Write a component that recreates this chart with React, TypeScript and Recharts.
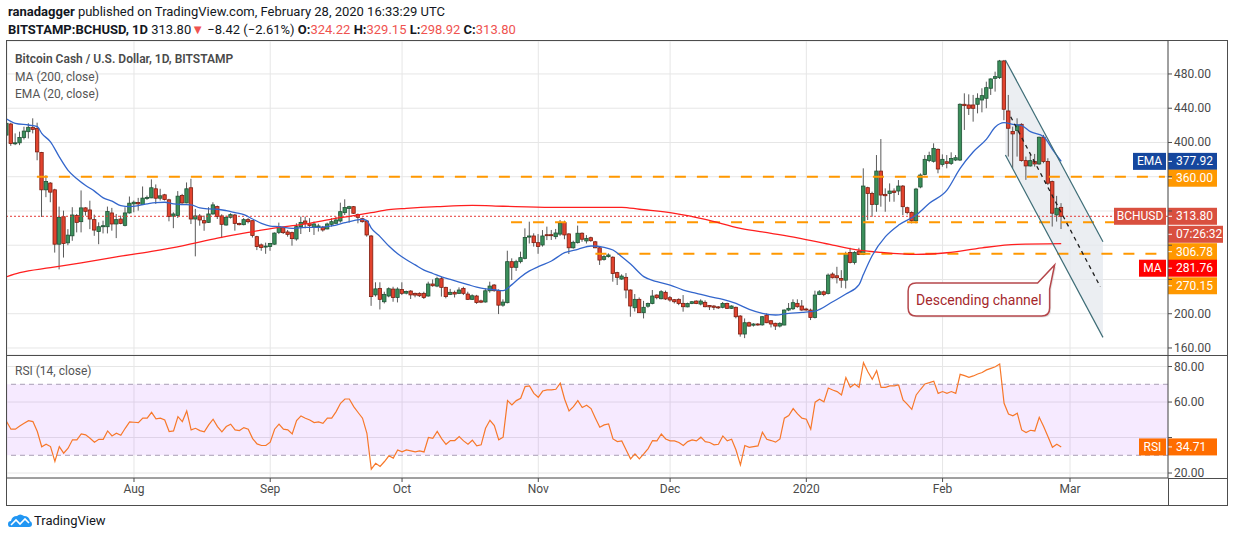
import React from 'react';
import {
  Bar,
  CartesianGrid,
  ComposedChart,
  Line,
  ReferenceArea,
  ReferenceDot,
  ReferenceLine,
  XAxis,
  YAxis,
} from 'recharts';

// day 0 = Aug 1 2019, first candle is Jul 3 2019
const FIRST_DAY = -29;

type Ohlc = [number, number, number, number]; // open, high, low, close

const julCandles: Ohlc[] = [
  [408.6, 424.3, 407.4, 422.4], [421.6, 423.1, 396.1, 398.8], [398.8, 410.6, 396.9, 399.6],
  [399.6, 412.6, 396.9, 405.9], [405.9, 418.4, 403.5, 413.3], [412.6, 422.4, 404.7, 417.7],
  [417.7, 428.2, 410.6, 415.3], [416.5, 423.1, 379.2, 389.0], [388.3, 389.0, 313.0, 344.7],
  [344.7, 361.6, 336.1, 354.5], [352.6, 353.7, 330.2, 342.0], [344.7, 345.9, 271.4, 281.2],
  [281.2, 325.1, 251.8, 312.6], [313.3, 320.4, 265.6, 282.0], [282.8, 298.8, 280.0, 291.8],
  [291.0, 324.4, 285.2, 315.3], [314.6, 316.5, 295.0, 306.7], [307.5, 344.0, 295.0, 323.6],
  [323.6, 324.4, 314.6, 319.6], [321.2, 332.0, 298.8, 310.6], [309.9, 315.7, 291.0, 297.7],
  [296.1, 306.7, 281.2, 301.6], [301.6, 308.7, 293.8, 302.8], [301.6, 325.1, 293.8, 319.3],
  [317.7, 323.6, 297.0, 304.8], [304.8, 316.5, 288.3, 309.9], [310.6, 314.6, 304.5, 305.5],
  [303.2, 324.4, 302.0, 317.7], [317.7, 336.9, 316.9, 329.1],
];

const augCandles: Ohlc[] = [
  [328.3, 332.2, 318.5, 330.2], [329.8, 335.3, 320.4, 328.3], [327.5, 348.6, 327.0, 335.0],
  [335.0, 338.0, 333.0, 335.7], [335.3, 356.9, 335.0, 347.1], [345.9, 351.0, 328.3, 334.9],
  [334.9, 345.9, 332.2, 337.7], [338.9, 340.0, 332.2, 333.4], [333.0, 334.2, 307.9, 313.4],
  [314.0, 318.5, 299.9, 316.5], [314.6, 343.2, 311.8, 337.3], [338.1, 340.0, 328.5, 329.4],
  [329.4, 353.3, 329.0, 345.9], [347.1, 357.6, 304.7, 310.6], [310.6, 322.4, 267.0, 314.2],
  [314.2, 316.5, 302.8, 309.5], [308.7, 314.6, 296.9, 306.0], [306.7, 324.4, 306.0, 316.5],
  [316.5, 330.2, 315.7, 327.1], [325.1, 326.3, 310.6, 313.4], [314.2, 316.1, 288.3, 304.4],
  [303.6, 314.6, 302.8, 312.6], [312.6, 317.3, 311.1, 315.7], [315.3, 316.5, 297.0, 305.5],
  [305.5, 306.3, 303.2, 304.0], [304.0, 311.8, 303.2, 309.9], [309.9, 311.8, 305.5, 307.5],
  [308.7, 308.9, 289.0, 291.4], [290.0, 291.0, 274.3, 278.4], [280.4, 282.0, 273.5, 277.3],
  [278.0, 283.0, 270.0, 279.0],
];

const sepCandles: Ohlc[] = [
  [278.4, 282.7, 273.5, 282.0], [281.2, 295.0, 280.4, 294.2], [295.0, 306.4, 293.0, 301.7],
  [300.5, 301.7, 293.1, 294.7], [295.5, 297.8, 290.0, 292.7], [294.7, 295.9, 279.5, 287.7],
  [287.3, 305.6, 285.3, 301.7], [301.7, 313.4, 293.1, 306.7], [308.3, 313.4, 299.7, 305.6],
  [305.0, 311.6, 295.5, 303.0], [301.0, 307.6, 292.0, 304.8], [301.0, 305.0, 296.0, 302.5],
  [301.0, 302.5, 295.9, 297.8], [299.0, 306.4, 298.6, 304.8], [304.4, 311.5, 301.7, 307.5],
  [305.6, 313.4, 304.8, 309.5], [308.3, 329.7, 306.4, 319.2], [318.0, 333.6, 315.3, 324.0],
  [323.0, 326.0, 306.4, 325.0], [325.0, 325.8, 316.5, 317.3], [316.0, 317.0, 305.6, 312.6],
  [311.0, 312.2, 306.4, 307.5], [308.3, 309.5, 290.0, 292.0], [290.8, 292.0, 209.2, 220.0],
  [222.0, 236.7, 220.0, 229.0], [229.6, 236.7, 205.0, 216.8], [214.0, 225.7, 212.0, 222.6],
  [220.7, 230.8, 219.2, 229.2], [228.8, 231.5, 214.0, 219.0], [219.0, 230.8, 213.2, 228.8],
];

const octCandles: Ohlc[] = [
  [228.4, 236.7, 221.8, 223.8], [224.0, 227.0, 222.6, 226.0], [226.5, 227.5, 217.2, 222.0],
  [223.8, 224.6, 219.2, 221.8], [223.8, 225.0, 219.5, 221.0], [223.8, 225.7, 217.2, 219.0],
  [220.7, 237.4, 219.9, 234.7], [234.7, 240.0, 231.5, 232.7], [232.3, 243.3, 231.0, 240.9],
  [240.9, 243.3, 220.0, 230.8], [230.8, 231.5, 218.0, 220.0], [222.6, 229.0, 221.8, 225.0],
  [225.0, 227.0, 219.0, 223.0], [223.8, 230.8, 223.0, 227.7], [229.6, 231.5, 221.8, 223.8],
  [223.0, 225.7, 216.0, 216.8], [216.8, 222.6, 216.0, 221.0], [220.7, 222.0, 211.5, 213.0],
  [215.0, 216.4, 212.4, 213.5], [213.7, 229.6, 213.0, 226.8], [226.8, 237.4, 224.6, 232.3],
  [233.5, 234.7, 225.7, 226.9], [226.9, 228.4, 199.6, 210.0], [210.0, 216.8, 208.2, 213.6],
  [212.9, 273.6, 212.1, 260.8], [260.8, 264.7, 239.4, 254.2], [254.2, 263.0, 250.0, 260.8],
  [260.8, 272.5, 258.8, 265.5], [264.7, 299.7, 263.5, 289.0], [289.5, 307.5, 282.0, 290.8],
  [290.8, 293.9, 278.4, 283.0],
];

const novCandles: Ohlc[] = [
  [283.0, 293.0, 270.0, 278.4], [280.3, 297.7, 278.4, 290.8], [292.3, 301.7, 286.0, 291.2],
  [292.3, 297.8, 286.1, 291.2], [290.0, 299.0, 287.0, 294.3], [293.0, 309.5, 291.0, 305.6],
  [306.4, 308.7, 287.0, 292.0], [293.2, 294.0, 269.7, 277.0], [277.0, 285.3, 276.0, 283.4],
  [283.0, 302.9, 282.0, 294.0], [294.0, 295.0, 284.0, 287.0], [285.0, 291.8, 282.0, 288.0],
  [288.8, 290.0, 284.0, 285.3], [284.0, 285.0, 276.6, 277.0], [277.0, 278.0, 257.0, 262.7],
  [263.5, 268.6, 262.0, 266.7], [266.7, 270.5, 265.5, 268.6], [266.0, 267.0, 237.4, 247.0],
  [248.0, 249.0, 233.5, 242.5], [240.5, 246.0, 239.5, 244.0], [242.5, 247.5, 218.0, 227.7],
  [227.7, 228.4, 196.5, 209.0], [207.0, 223.0, 202.5, 216.8], [216.8, 219.0, 201.0, 201.2],
  [201.2, 215.0, 194.5, 207.5], [208.8, 213.0, 207.0, 212.0], [212.0, 227.7, 211.0, 220.7],
  [221.8, 222.6, 216.8, 218.7], [217.5, 227.5, 216.8, 225.7], [225.0, 227.0, 216.0, 217.2],
];

const decCandles: Ohlc[] = [
  [218.7, 220.7, 214.0, 216.0], [216.4, 217.2, 212.0, 214.0], [216.8, 218.0, 210.0, 212.0],
  [212.1, 221.8, 202.4, 208.2], [208.0, 212.9, 207.5, 212.0], [212.0, 214.8, 211.2, 214.0],
  [214.8, 215.6, 211.2, 212.0], [211.3, 216.8, 209.8, 214.8], [213.3, 215.6, 207.5, 208.2],
  [209.6, 210.0, 204.3, 208.0], [209.0, 210.0, 204.3, 207.5], [208.0, 209.0, 205.5, 207.0],
  [207.5, 213.7, 206.3, 212.0], [212.0, 212.9, 205.5, 206.3], [206.3, 209.8, 205.5, 209.0],
  [207.5, 208.2, 194.6, 196.5], [197.3, 198.4, 173.2, 176.3], [176.3, 194.5, 171.5, 189.5],
  [189.5, 190.7, 184.8, 185.6], [186.6, 189.0, 185.0, 188.0], [188.0, 189.0, 186.0, 187.0],
  [187.0, 197.3, 186.0, 196.5], [198.4, 200.4, 189.0, 189.5], [191.8, 192.6, 184.0, 188.0],
  [188.8, 189.5, 181.0, 185.6], [185.6, 190.0, 184.0, 188.8], [186.8, 205.0, 186.5, 204.3],
  [204.3, 212.5, 203.0, 206.3], [205.8, 216.8, 204.3, 212.9], [212.1, 216.8, 207.0, 208.2],
  [209.0, 216.0, 203.5, 204.3],
];

const janCandles: Ohlc[] = [
  [205.5, 207.0, 203.5, 205.0], [204.3, 206.0, 192.6, 195.7], [195.7, 226.9, 194.5, 221.8],
  [222.5, 227.6, 221.7, 225.6], [225.6, 227.0, 220.5, 222.5], [223.7, 247.0, 222.5, 245.1],
  [246.3, 248.2, 241.2, 242.0], [244.3, 254.8, 235.4, 242.0], [241.2, 250.9, 230.3, 239.2],
  [239.2, 272.4, 229.5, 270.4], [271.6, 277.0, 258.7, 259.9], [259.9, 273.1, 257.5, 271.6],
  [273.1, 277.0, 268.5, 269.2], [269.2, 369.8, 268.5, 349.1], [347.2, 348.3, 309.4, 340.5],
  [340.5, 342.5, 313.3, 327.7], [327.7, 385.3, 319.1, 366.6], [366.6, 404.0, 325.0, 338.6],
  [339.4, 346.4, 319.1, 337.8], [340.5, 352.2, 330.8, 343.3], [343.3, 346.4, 330.8, 341.7],
  [343.3, 356.1, 338.6, 349.1], [349.1, 350.3, 315.2, 325.0], [323.8, 325.0, 316.0, 318.3],
  [318.3, 319.5, 305.5, 308.6], [308.6, 347.0, 305.5, 345.6], [348.0, 363.9, 346.5, 362.0],
  [362.7, 385.3, 361.6, 380.3], [379.0, 389.2, 377.0, 384.6], [378.0, 399.0, 376.5, 393.1],
  [392.0, 393.0, 364.0, 369.0],
];

const febCandles: Ohlc[] = [
  [374.4, 386.1, 371.7, 380.3], [377.5, 385.3, 369.8, 375.6], [375.6, 388.5, 373.7, 381.4],
  [379.5, 385.3, 378.3, 382.2], [379.5, 445.7, 378.3, 444.6], [444.6, 457.4, 414.6, 443.0],
  [443.8, 456.2, 432.1, 439.9], [443.8, 455.5, 424.3, 439.9], [444.6, 457.4, 434.0, 451.6],
  [449.6, 463.3, 435.2, 454.7], [451.6, 471.0, 440.0, 464.0], [463.3, 474.9, 455.5, 474.2],
  [474.9, 482.7, 459.4, 476.9], [475.7, 496.4, 474.2, 495.2], [495.2, 496.4, 426.0, 438.8],
  [436.8, 455.5, 383.5, 416.6], [412.7, 418.5, 369.9, 410.0], [413.9, 428.2, 383.5, 420.5],
  [421.2, 422.4, 377.7, 378.8], [378.8, 383.5, 356.3, 372.6], [372.6, 385.4, 371.8, 378.8],
  [377.7, 386.6, 371.8, 374.9], [374.9, 406.8, 373.8, 406.1], [406.1, 408.8, 375.7, 377.7],
  [377.7, 381.6, 350.4, 352.4], [354.3, 355.5, 301.8, 317.4], [315.4, 337.6, 307.6, 323.2],
  [324.22, 329.15, 298.92, 313.8],
];

// RSI (14) per day, same days as the candles
const julRsi = [49.0, 44.7, 44.7, 46.5, 48.0, 49.5, 49.0, 43.4, 34.8, 36.2, 34.9, 26.5, 34.9, 31.2, 34.0,
  38.7, 38.7, 42.0, 41.5, 39.6, 37.4, 39.0, 39.0, 43.7, 40.9, 42.4, 41.3, 45.2, 48.8];
const augRsi = [48.6, 48.4, 50.9, 50.9, 54.2, 50.5, 50.9, 49.9, 43.4, 43.7, 51.8, 49.0, 55.0, 44.3, 45.2,
  43.9, 43.2, 47.1, 50.3, 46.2, 43.2, 46.2, 47.5, 44.3, 43.9, 45.6, 44.7, 39.4, 36.4, 35.5, 35.5];
const sepRsi = [37.4, 44.7, 47.5, 44.7, 44.3, 42.0, 49.5, 52.2, 50.9, 49.9, 48.4, 48.8, 48.0, 50.9, 50.9,
  54.6, 59.3, 61.7, 61.7, 57.4, 54.1, 50.9, 42.4, 22.2, 25.5, 23.7, 26.5, 29.7, 28.4, 33.0];
const octRsi = [31.9, 33.0, 32.5, 31.9, 32.5, 31.9, 40.0, 39.6, 43.5, 39.4, 36.2, 38.3, 38.3, 40.5, 38.1,
  36.2, 38.5, 35.3, 35.9, 45.2, 49.7, 46.7, 38.7, 40.2, 60.8, 58.4, 60.8, 62.1, 68.7, 69.1, 64.9];
const novRsi = [62.7, 66.2, 66.8, 66.8, 67.2, 70.6, 61.6, 55.0, 57.4, 60.8, 56.9, 58.2, 56.3, 50.9, 45.8,
  47.1, 47.7, 39.2, 37.7, 38.1, 33.0, 28.0, 30.8, 28.0, 30.8, 33.8, 38.3, 38.1, 42.0, 39.2];
const decRsi = [38.1, 38.1, 37.2, 35.5, 37.7, 38.7, 38.1, 40.2, 37.7, 37.2, 35.9, 36.2, 40.9, 38.1, 39.0,
  33.0, 24.6, 35.5, 34.5, 34.9, 35.3, 43.0, 39.0, 38.3, 37.4, 39.2, 50.9, 52.4, 56.3, 53.3, 50.9];
const janRsi = [50.3, 44.7, 59.9, 61.6, 60.1, 67.9, 66.8, 65.9, 64.0, 73.8, 68.3, 70.2, 68.3, 82.2, 77.1,
  72.8, 77.7, 68.3, 68.3, 69.1, 69.1, 69.6, 61.2, 58.7, 55.9, 64.0, 67.2, 70.2, 70.9, 71.7, 64.9];
const febRsi = [65.9, 64.9, 65.9, 64.9, 75.6, 74.9, 73.9, 74.7, 75.8, 76.6, 78.1, 79.0, 79.9, 81.4, 59.3,
  53.3, 52.2, 53.7, 44.3, 42.8, 44.1, 43.7, 51.4, 46.2, 40.5, 34.5, 36.2, 34.71];

// EMA(20) and MA(200) at sparse days
const emaPoints: [number, number][] = [
  [-29, 427.5], [-27, 422.4], [-24, 420.4], [-22, 418.5], [-21, 410.6], [-19, 400.8], [-17, 383.2],
  [-15, 367.5], [-13, 357.7], [-11, 349.8], [-9, 343.2], [-7, 335.3], [-5, 331.4], [-3, 326.3],
  [-1, 325.1], [1, 326.3], [3, 328.3], [5, 329.8], [7, 330.2], [9, 328.3], [11, 327.5], [13, 327.1],
  [15, 323.6], [17, 322.4], [19, 322.0], [21, 320.4], [23, 318.1], [25, 315.7], [27, 310.6],
  [29, 305.5], [31, 302.4], [33, 301.7], [36, 299.7], [39, 300.9], [42, 300.9], [45, 302.5],
  [48, 306.4], [50, 308.7], [52, 310.3], [53, 308.7], [54, 300.0], [56, 290.0], [58, 279.0],
  [60, 270.0], [62, 263.0], [64, 257.0], [66, 251.0], [68, 247.0], [70, 243.0], [72, 240.0],
  [74, 237.0], [76, 234.0], [78, 231.0], [80, 229.0], [82, 228.0], [84, 227.0], [86, 234.0],
  [88, 243.0], [90, 250.0], [92, 255.0], [95, 261.6], [98, 271.3], [101, 275.2], [104, 279.1],
  [107, 277.5], [109, 274.4], [111, 266.6], [113, 258.0], [116, 243.3], [119, 237.4], [122, 233.5],
  [125, 227.7], [128, 223.8], [131, 219.9], [134, 216.8], [137, 212.0], [140, 205.0], [143, 200.4],
  [146, 198.5], [149, 200.5], [152, 201.5], [155, 203.0], [159, 214.0], [162, 223.0], [165, 234.0],
  [166, 246.0], [168, 268.0], [171, 290.0], [174, 303.5], [178, 315.2], [181, 329.0], [185, 344.4],
  [188, 369.8], [191, 389.2], [194, 404.0], [196, 418.0], [198, 423.1], [200, 421.2], [202, 419.6],
  [204, 412.6], [207, 406.8], [209, 392.0], [211, 377.92],
];

const maPoints: [number, number][] = [
  [-29, 243.2], [-26, 248.0], [-19, 253.8], [-12, 259.5], [-4, 266.3], [4, 272.8], [11, 279.3],
  [19, 288.3], [26, 295.0], [33, 300.8], [38, 304.0], [45, 310.6], [50, 314.6], [54, 318.0],
  [58, 321.5], [62, 323.0], [69, 325.0], [77, 326.5], [84, 325.5], [95, 324.3], [111, 324.3],
  [115, 322.0], [123, 317.3], [130, 310.3], [138, 299.7], [145, 293.9], [151, 288.7], [159, 280.2],
  [165, 274.3], [170, 271.6], [178, 269.2], [185, 271.2], [193, 277.0], [201, 280.9], [211, 281.76],
];

const monthTicks = [0, 31, 61, 92, 122, 153, 184, 213];
const monthLabels = ['Aug', 'Sep', 'Oct', 'Nov', 'Dec', '2020', 'Feb', 'Mar'];
const priceTicks = [160, 200, 240, 280, 320, 360, 400, 440, 480];
const rsiTicks = [20, 40, 60, 80];

const lastClose = 313.8;
const emaLast = 377.92;
const maLast = 281.76;
const supportLevels = [360, 306.78, 270.15];

// channel drawn on the chart: [day, price] of each edge
const channelUpper: [number, number][] = [[198.3, 496.4], [220.5, 284.1]];
const channelLower: [number, number][] = [[198.3, 385.4], [220.5, 172.4]];
const channelMid: [number, number][] = [[199.5, 430.1], [219.9, 231.5]];
const calloutTip: [number, number] = [209.5, 256.9];

const candles = [
  ...julCandles, ...augCandles, ...sepCandles, ...octCandles,
  ...novCandles, ...decCandles, ...janCandles, ...febCandles,
].map(([o, h, l, c], i) => ({ d: FIRST_DAY + i, o, h, l, c }));

const rsiRows = [
  ...julRsi, ...augRsi, ...sepRsi, ...octRsi, ...novRsi, ...decRsi, ...janRsi, ...febRsi,
].map((v, i) => ({ d: FIRST_DAY + i, rsi: v }));

const emaRows = emaPoints.map(([d, v]) => ({ d, v }));
const maRows = maPoints.map(([d, v]) => ({ d, v }));

const X_MIN = -28.9;
const X_MAX = 235.3;
const FONT = "Roboto, 'Liberation Sans', Arial, sans-serif";
const AXIS_TEXT = '#4a4a4a';
const FRAME = '#4d4d4d';
const GRID = '#e6e6e6';
const ORANGE = '#ff9800';

function Candle(props: any) {
  const { x, y, width, height, payload } = props;
  if (x == null || !payload) return <g />;
  const top = Math.min(y, y + height);
  const span = Math.abs(height);
  const { o, h, l, c } = payload;
  const k = h > l ? span / (h - l) : 0;
  const py = (v: number) => top + (h - v) * k;
  const cx = x + width / 2;
  const up = c >= o;
  const bodyTop = py(Math.max(o, c));
  const bodyH = Math.max(py(Math.min(o, c)) - bodyTop, 1);
  return (
    <g>
      <line x1={cx} x2={cx} y1={top} y2={top + span} stroke="#5a5a5a" strokeWidth={1} />
      <rect
        x={cx - 1.7}
        y={bodyTop}
        width={3.4}
        height={bodyH}
        fill={up ? '#3b8f5b' : '#e2432e'}
        stroke={up ? '#1f5235' : '#7d1d10'}
        strokeWidth={0.8}
      />
    </g>
  );
}

// price tag on the right scale, optional name box left of it
function Tag(props: any) {
  const { viewBox, text, color, name, nameW = 30, valueW = 49, shift = 0 } = props;
  if (!viewBox) return null;
  const right = viewBox.x + viewBox.width;
  const cy = viewBox.y + shift;
  return (
    <g style={{ fontFamily: FONT }}>
      {name && (
        <g>
          <rect x={right - 2 - nameW} y={cy - 8.5} width={nameW} height={17} fill={color} />
          <text x={right - 2 - nameW / 2} y={cy + 4} textAnchor="middle" fontSize={12} fill="#fff">
            {name}
          </text>
        </g>
      )}
      <rect x={right} y={cy - 8.5} width={valueW} height={17} fill={color} />
      <line x1={right} x2={right + 4} y1={cy} y2={cy} stroke="#fff" />
      <text x={right + 8} y={cy + 4} fontSize={12} fill="#fff">
        {text}
      </text>
    </g>
  );
}

function Callout(props: any) {
  const { cx, cy } = props;
  if (cx == null) return <g />;
  const L = cx - 146.5;
  const R = cx - 5;
  const T = cy + 18;
  const B = cy + 51;
  const r = 8;
  const d = `M${L + r},${T} L${cx - 17},${T} L${cx},${cy} L${R},${T + 6} L${R},${B - r} Q${R},${B} ${R - r},${B} L${L + r},${B} Q${L},${B} ${L},${B - r} L${L},${T + r} Q${L},${T} ${L + r},${T} Z`;
  return (
    <g>
      <path d={d} transform="translate(1.5,1.5)" fill="#c9c9c9" opacity={0.5} />
      <path d={d} fill="#ffffff" stroke="#b5474b" strokeWidth={1.5} />
      <text x={(L + R) / 2} y={(T + B) / 2 + 5} textAnchor="middle" fontSize={14} fill="#a5282c" style={{ fontFamily: FONT }}>
        Descending channel
      </text>
    </g>
  );
}

function ChannelFill(props: any) {
  const { x, y, width, height } = props;
  if (x == null) return <g />;
  const pTop = channelUpper[0][1];
  const pBot = channelLower[1][1];
  const py = (p: number) => y + ((pTop - p) / (pTop - pBot)) * height;
  const pts = [
    [x, py(channelUpper[0][1])],
    [x + width, py(channelUpper[1][1])],
    [x + width, py(channelLower[1][1])],
    [x, py(channelLower[0][1])],
  ];
  return <polygon points={pts.map((p) => p.join(',')).join(' ')} fill="#e4e8ee" fillOpacity={0.75} />;
}

const hiddenPriceTicks = [240, 280, 320, 360];
function PriceTick(props: any) {
  const { x, y, payload } = props;
  if (hiddenPriceTicks.includes(payload.value)) return <g />;
  return (
    <text x={x} y={y + 4} fontSize={12} fill={AXIS_TEXT} style={{ fontFamily: FONT }}>
      {payload.value.toFixed(2)}
    </text>
  );
}

function RsiTick(props: any) {
  const { x, y, payload } = props;
  if (payload.value === 40) return <g />;
  return (
    <text x={x} y={y + 4} fontSize={12} fill={AXIS_TEXT} style={{ fontFamily: FONT }}>
      {payload.value.toFixed(2)}
    </text>
  );
}

const seg = (pts: [number, number][]) => pts.map(([x, y]) => ({ x, y }));

function PriceChart() {
  return (
    <ComposedChart width={1221} height={314} data={candles} margin={{ top: 0, right: 0, bottom: 0, left: 0 }}>
      <CartesianGrid stroke={GRID} />
      <XAxis dataKey="d" type="number" domain={[X_MIN, X_MAX]} ticks={monthTicks} interval={0} hide allowDataOverflow />
      <YAxis
        orientation="right"
        width={60}
        domain={[151.8, 518.5]}
        ticks={priceTicks}
        interval={0}
        allowDataOverflow
        axisLine={{ stroke: FRAME }}
        tickLine={{ stroke: FRAME }}
        tickSize={4}
        tick={<PriceTick />}
      />
      <ReferenceArea
        x1={channelUpper[0][0]}
        x2={channelUpper[1][0]}
        y1={channelLower[1][1]}
        y2={channelUpper[0][1]}
        shape={<ChannelFill />}
        ifOverflow="visible"
      />
      {supportLevels.map((v, i) => (
        <ReferenceLine
          key={v}
          segment={[{ x: [-22.1, 85.8, 105][i], y: v }, { x: 234.6, y: v }]}
          stroke={ORANGE}
          strokeWidth={2}
          strokeDasharray="11 11"
        />
      ))}
      <ReferenceLine y={lastClose} stroke="#e53935" strokeDasharray="2 2" strokeWidth={1} />
      <Line data={maRows} dataKey="v" type="monotone" stroke="#ff1f1f" strokeWidth={1.3} dot={false} isAnimationActive={false} />
      <Line data={emaRows} dataKey="v" type="monotone" stroke="#3366cc" strokeWidth={1.3} dot={false} isAnimationActive={false} />
      <Bar dataKey={(r: any) => [r.l, r.h]} barSize={4} shape={<Candle />} isAnimationActive={false} />
      <ReferenceLine segment={seg(channelUpper)} stroke="#3d6c76" strokeWidth={1.2} ifOverflow="visible" />
      <ReferenceLine segment={seg(channelLower)} stroke="#3d6c76" strokeWidth={1.2} ifOverflow="visible" />
      <ReferenceLine segment={seg(channelMid)} stroke="#1f1f1f" strokeWidth={1.3} strokeDasharray="4 4" ifOverflow="visible" />
      <ReferenceDot x={calloutTip[0]} y={calloutTip[1]} r={0} shape={<Callout />} />
      <ReferenceLine y={emaLast} stroke="none" label={<Tag text={emaLast.toFixed(2)} color="#15479e" name="EMA" nameW={33} />} />
      <ReferenceLine y={supportLevels[0]} stroke="none" label={<Tag text={supportLevels[0].toFixed(2)} color={ORANGE} shift={1.5} />} />
      <ReferenceLine y={lastClose} stroke="none" label={<Tag text={lastClose.toFixed(2)} color="#d9503f" name="BCHUSD" nameW={52} />} />
      <ReferenceLine y={lastClose} stroke="none" label={<Tag text="07:26:32" color="#d9503f" valueW={55} shift={18} />} />
      <ReferenceLine y={supportLevels[1]} stroke="none" label={<Tag text={supportLevels[1].toFixed(2)} color={ORANGE} shift={29.4} />} />
      <ReferenceLine y={maLast} stroke="none" label={<Tag text={maLast.toFixed(2)} color="#ff0000" name="MA" nameW={27} shift={24.5} />} />
      <ReferenceLine y={supportLevels[2]} stroke="none" label={<Tag text={supportLevels[2].toFixed(2)} color={ORANGE} shift={32.1} />} />
    </ComposedChart>
  );
}

function RsiChart() {
  const lastRsi = febRsi[febRsi.length - 1];
  return (
    <ComposedChart width={1221} height={150} data={rsiRows} margin={{ top: 0, right: 0, bottom: 0, left: 0 }}>
      <ReferenceArea y1={30} y2={70} fill="#9915ff" fillOpacity={0.09} stroke="none" />
      <CartesianGrid stroke={GRID} />
      <XAxis
        dataKey="d"
        type="number"
        domain={[X_MIN, X_MAX]}
        ticks={monthTicks}
        interval={0}
        allowDataOverflow
        height={27}
        tickFormatter={(v: number) => monthLabels[monthTicks.indexOf(v)]}
        tick={{ fontSize: 12, fill: AXIS_TEXT, fontFamily: FONT }}
        axisLine={{ stroke: FRAME }}
        tickLine={{ stroke: FRAME }}
        tickSize={4}
      />
      <YAxis
        orientation="right"
        width={60}
        domain={[17.2, 86.5]}
        ticks={rsiTicks}
        interval={0}
        allowDataOverflow
        axisLine={{ stroke: FRAME }}
        tickLine={{ stroke: FRAME }}
        tickSize={4}
        tick={<RsiTick />}
      />
      <ReferenceLine y={70} stroke="#a99fb5" strokeDasharray="5 4" />
      <ReferenceLine y={30} stroke="#a99fb5" strokeDasharray="5 4" />
      <Line dataKey="rsi" type="linear" stroke="#f7782a" strokeWidth={1.2} dot={false} isAnimationActive={false} />
      <ReferenceLine y={lastRsi} stroke="none" label={<Tag text={lastRsi.toFixed(2)} color="#ff6d00" name="RSI" nameW={27} />} />
    </ComposedChart>
  );
}

function Logo() {
  return (
    <svg width={24} height={16} viewBox="0 0 24 16" style={{ position: 'absolute', left: 8, top: 513 }}>
      <path d="M2 14 Q0 14 0 11 Q0 8 3 8 Q4 3 9 3 Q12 0 16 3 Q21 3 22 8 Q24 9 24 11 Q24 14 21 14 Z" fill="#2196f3" />
      <polyline points="3,12 8,7 12,11 17,6 21,10" fill="none" stroke="#ffffff" strokeWidth={1.6} />
    </svg>
  );
}

export default function App() {
  const red = { color: '#ef5350' };
  return (
    <div style={{ position: 'relative', width: 1234, height: 541, background: '#fff', overflow: 'hidden', fontFamily: FONT, color: '#131722' }}>
      <style>{'body{margin:0}'}</style>
      <div style={{ position: 'absolute', left: 8, top: 3, fontSize: 13, lineHeight: '17.5px', whiteSpace: 'nowrap' }}>
        <div>
          <b>ranadagger</b> published on TradingView.com, February 28, 2020 16:33:29 UTC
        </div>
        <div>
          <b>BITSTAMP:BCHUSD, 1D</b> 313.80<span style={red}>▼</span> −8.42 (−2.61%) <b>O:</b>
          <span style={red}>324.22</span> <b>H:</b>
          <span style={red}>329.15</span> <b>L:</b>
          <span style={red}>298.92</span> <b>C:</b>
          <span style={red}>313.80</span>
        </div>
      </div>

      <div style={{ position: 'absolute', left: 7, top: 41 }}>
        <PriceChart />
      </div>
      <div style={{ position: 'absolute', left: 7, top: 355 }}>
        <RsiChart />
      </div>

      <div style={{ position: 'absolute', left: 15, top: 51, fontSize: 12, lineHeight: '17.5px', color: '#555' }}>
        <div style={{ fontWeight: 600, color: '#4a4a4a' }}>Bitcoin Cash / U.S. Dollar, 1D, BITSTAMP</div>
        <div>MA (200, close)</div>
        <div>EMA (20, close)</div>
      </div>
      <div style={{ position: 'absolute', left: 15, top: 364, fontSize: 12, color: '#555' }}>RSI (14, close)</div>

      {/* frame and pane separators */}
      <div style={{ position: 'absolute', left: 6, top: 40, width: 1222, height: 466, border: `1px solid ${FRAME}`, boxSizing: 'border-box' }} />
      <div style={{ position: 'absolute', left: 6, top: 355, width: 1222, height: 1, background: FRAME }} />
      <div style={{ position: 'absolute', left: 1168, top: 478, width: 60, height: 1, background: FRAME }} />
      <div style={{ position: 'absolute', left: 1168, top: 478, width: 1, height: 27, background: FRAME }} />

      <Logo />
      <div style={{ position: 'absolute', left: 34, top: 513, fontSize: 13, lineHeight: '16px' }}>TradingView</div>
    </div>
  );
}
